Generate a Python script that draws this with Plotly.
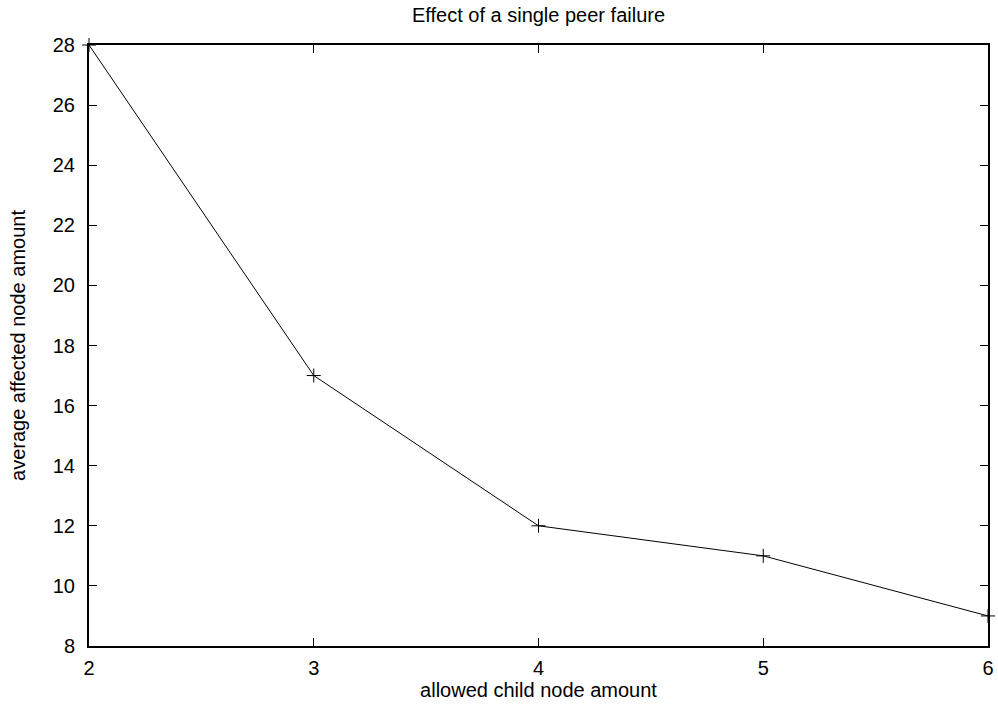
import plotly.graph_objects as go

# allowed child node amount vs. average affected node amount
child_nodes = [2, 3, 4, 5, 6]
affected_nodes = [28, 17, 12, 11, 9]

x_ticks = [2, 3, 4, 5, 6]
y_ticks = [8, 10, 12, 14, 16, 18, 20, 22, 24, 26, 28]

FONT = "Liberation Sans, Arial, sans-serif"

fig = go.Figure()
fig.add_trace(go.Scatter(
    x=child_nodes, y=affected_nodes,
    mode="lines+markers",
    line=dict(color="black", width=1),
    marker=dict(symbol="cross-thin", size=10, line=dict(color="black", width=1)),
    cliponaxis=False,
    showlegend=False,
))

axis_common = dict(
    showgrid=False, zeroline=False, automargin=False,
    showline=True, linecolor="black", linewidth=2,
    mirror="ticks", ticks="inside", ticklen=8, tickwidth=1, tickcolor="black",
    tickfont=dict(family=FONT, size=20, color="black"),
)

fig.update_layout(
    width=998, height=709,
    margin=dict(l=89, r=10, t=45, b=63),
    paper_bgcolor="white", plot_bgcolor="white",
    font=dict(family=FONT, size=20, color="black"),
    title=dict(text="Effect of a single peer failure", x=0.5, xref="paper", xanchor="center",
               y=1 - 15 / 709, yanchor="middle", font=dict(family=FONT, size=20, color="black")),
    xaxis=dict(range=[2, 6], tickvals=x_ticks,
               title=dict(text="allowed child node amount", standoff=5,
                          font=dict(family=FONT, size=20, color="black")),
               ticklabelstandoff=3, **axis_common),
    yaxis=dict(range=[8, 28], tickvals=y_ticks,
               title=dict(text="average affected node amount", standoff=22,
                          font=dict(family=FONT, size=20, color="black")),
               ticklabelstandoff=8, **axis_common),
)

fig.write_html("out.html")
